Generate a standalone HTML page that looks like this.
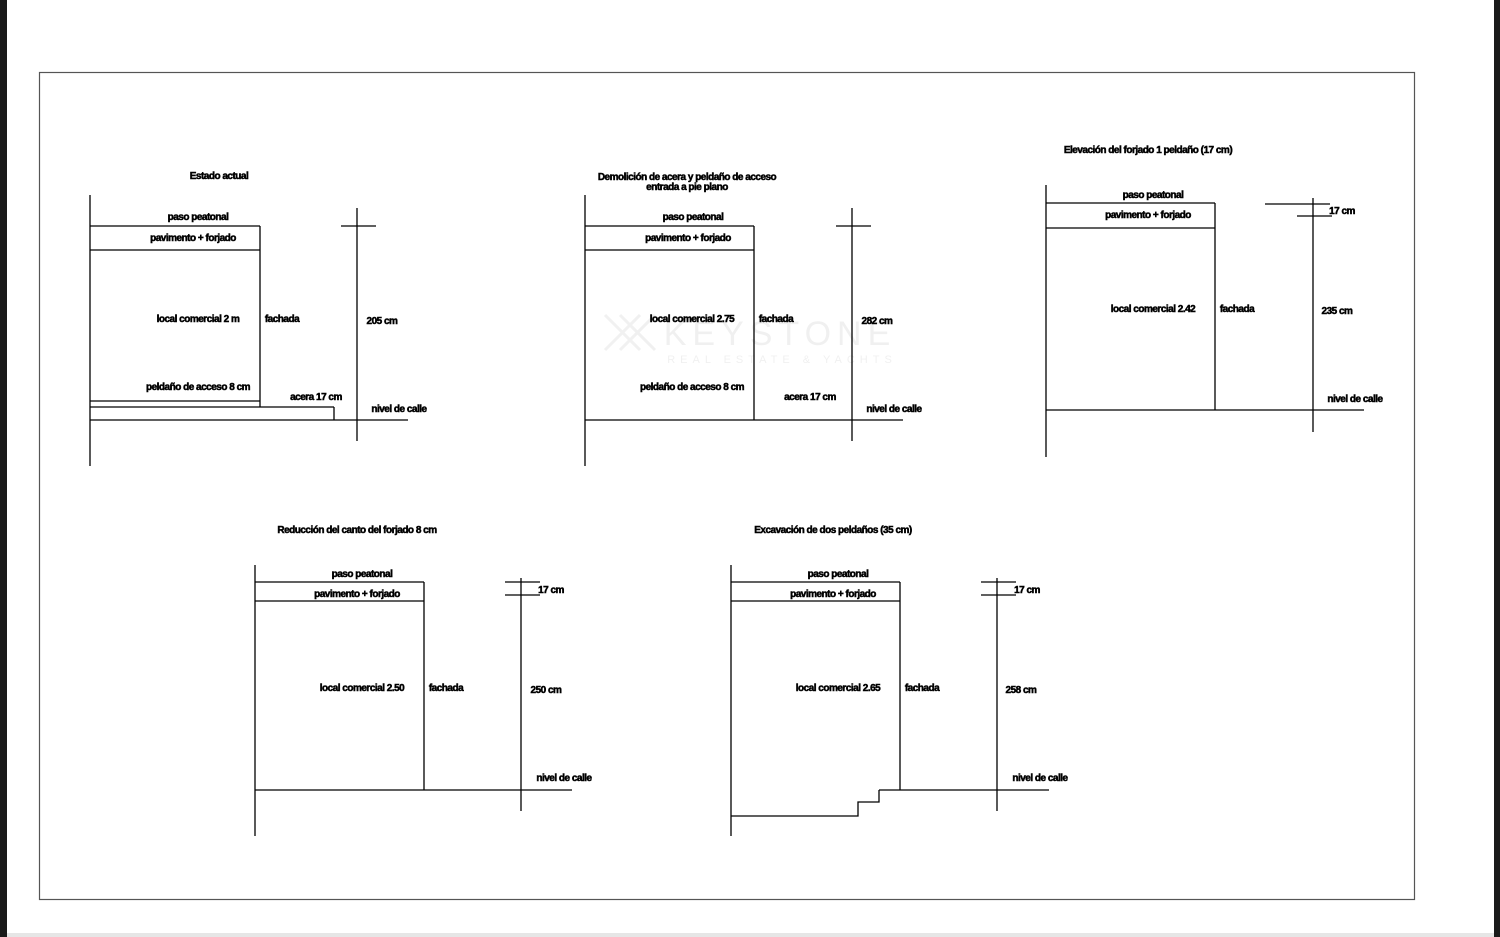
<!DOCTYPE html>
<html><head><meta charset="utf-8"><style>
html,body{margin:0;padding:0;background:#fff;}
svg{display:block;}
text{font-family:"Liberation Sans",sans-serif;font-weight:bold;font-size:10px;fill:#000;stroke:#000;stroke-width:0.5px;text-anchor:middle;letter-spacing:-0.5px;}
</style></head><body>
<svg width="1500" height="937" viewBox="0 0 1500 937" xmlns="http://www.w3.org/2000/svg">
<rect x="0" y="0" width="1500" height="937" fill="#fff"/>
<rect x="0" y="0" width="7" height="937" fill="#1a1a1a"/>
<rect x="1494" y="0" width="6" height="937" fill="#1a1a1a"/>
<rect x="7" y="933" width="1487" height="4" fill="#e6e6e6"/>
<rect x="39.5" y="72.5" width="1375" height="827" fill="none" stroke="#555" stroke-width="1.2"/>

<g opacity="0.12">
<text x="780" y="345" style="font-size:34px;font-weight:normal;letter-spacing:6px;fill:#888;stroke:none">KEYSTONE</text>
<text x="782" y="363" style="font-size:11px;font-weight:normal;letter-spacing:5px;fill:#888;stroke:none">REAL ESTATE &amp; YACHTS</text>
<path d="M605 315 L640 350 M620 315 L655 350 M640 315 L605 350 M655 315 L620 350" stroke="#888" stroke-width="3" fill="none"/>
</g>

<g stroke="#000" stroke-width="1.3" fill="none">
<path d="M90 195V466 M90 226H260 M90 250H260 M260 226V407 M90 401H260 M90 407H334 M334 407V420 M90 420H408 M357 208V441 M341 226H376 M346 420H376"/>
<path d="M585 195V466 M585 226H754 M585 250H754 M754 226V420 M585 420H903 M852 208V441 M836 226H871 M841 420H871"/>
<path d="M1046 185V457 M1046 203H1215 M1046 228H1215 M1215 203V410 M1046 410H1364 M1313 198V432 M1265 204H1330 M1297 216H1332"/>
<path d="M255 565V836 M255 582H424 M255 601H424 M424 582V790 M255 790H572 M521 578V811 M505 582H540 M505 595H540"/>
<path d="M731 565V836 M731 582H900 M731 601H900 M900 582V790 M879 790H1049 M879 790V802H858V816H731 M997 578V811 M981 582H1016 M981 595H1016"/>
</g>

<text x="219" y="179">Estado actual</text>
<text x="198" y="220">paso peatonal</text>
<text x="193" y="241">pavimento + forjado</text>
<text x="198" y="322">local comercial 2 m</text>
<text x="282" y="322">fachada</text>
<text x="382" y="324">205 cm</text>
<text x="198" y="390">peldaño de acceso 8 cm</text>
<text x="316" y="400">acera 17 cm</text>
<text x="399" y="412">nivel de calle</text>

<text x="687" y="180">Demolición de acera y peldaño de acceso</text>
<text x="687" y="190">entrada a pie plano</text>
<text x="693" y="220">paso peatonal</text>
<text x="688" y="241">pavimento + forjado</text>
<text x="692" y="322">local comercial 2.75</text>
<text x="776" y="322">fachada</text>
<text x="877" y="324">282 cm</text>
<text x="692" y="390">peldaño de acceso 8 cm</text>
<text x="810" y="400">acera 17 cm</text>
<text x="894" y="412">nivel de calle</text>

<text x="1148" y="153">Elevación del forjado 1 peldaño (17 cm)</text>
<text x="1153" y="198">paso peatonal</text>
<text x="1148" y="218">pavimento + forjado</text>
<text x="1153" y="312">local comercial 2.42</text>
<text x="1237" y="312">fachada</text>
<text x="1337" y="314">235 cm</text>
<text x="1342" y="214">17 cm</text>
<text x="1355" y="402">nivel de calle</text>

<text x="357" y="533">Reducción del canto del forjado 8 cm</text>
<text x="362" y="577">paso peatonal</text>
<text x="357" y="597">pavimento + forjado</text>
<text x="362" y="691">local comercial 2.50</text>
<text x="446" y="691">fachada</text>
<text x="546" y="693">250 cm</text>
<text x="551" y="593">17 cm</text>
<text x="564" y="781">nivel de calle</text>

<text x="833" y="533">Excavación de dos peldaños (35 cm)</text>
<text x="838" y="577">paso peatonal</text>
<text x="833" y="597">pavimento + forjado</text>
<text x="838" y="691">local comercial 2.65</text>
<text x="922" y="691">fachada</text>
<text x="1021" y="693">258 cm</text>
<text x="1027" y="593">17 cm</text>
<text x="1040" y="781">nivel de calle</text>
</svg>
</body></html>
